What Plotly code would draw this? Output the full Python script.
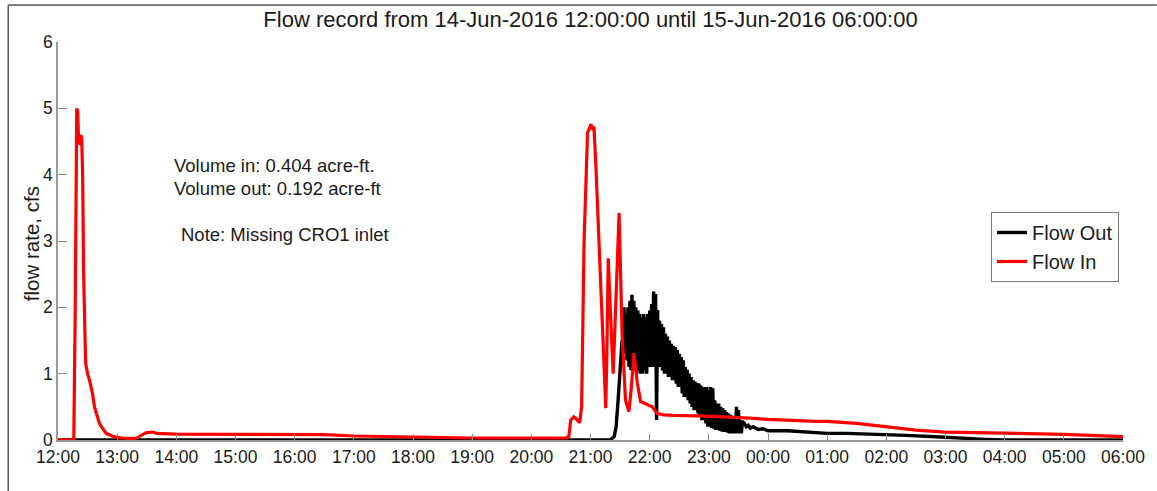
import pandas as pd
import plotly.graph_objects as go

START = pd.Timestamp("2016-06-14 12:00:00")

# Flow In (red): minutes after 12:00, flow in cfs
in_min = [0, 16, 17.5, 19, 20, 21, 22, 23, 24, 25, 26, 27, 28, 30, 32, 35, 37, 40, 42, 45, 49,
          55, 59, 65, 75, 80, 85, 89, 96, 100, 120, 180, 240, 270, 300, 360, 420, 480, 515,
          518, 520, 523, 525, 529, 531, 533.5, 535, 537, 539, 540.5, 542, 543.5, 545.5, 548.8,
          552, 555.5, 556.5, 558, 560, 563, 566, 569, 572, 575.5, 579, 581.5, 584, 587.5, 590.8,
          597.5, 602.6, 607.7, 614.4, 624.5, 658, 702, 720, 769, 780, 810, 840, 870, 900, 960,
          1020, 1080]
in_val = [0.0, 0.0, 2.0, 5.0, 4.95, 4.45, 4.5, 4.6, 4.55, 4.0, 2.5, 1.4, 1.16, 1.0, 0.9, 0.7,
          0.5, 0.35, 0.25, 0.18, 0.1, 0.06, 0.04, 0.03, 0.02, 0.03, 0.07, 0.11, 0.12, 0.1, 0.09,
          0.09, 0.09, 0.08, 0.06, 0.04, 0.03, 0.03, 0.03,
          0.05, 0.3, 0.35, 0.33, 0.26, 0.5, 3.0, 3.9, 4.63, 4.7, 4.76, 4.7, 4.72, 4.12, 2.86,
          1.61, 0.48, 1.2, 2.74, 2.0, 1.0, 2.2, 3.42, 1.61, 0.6, 0.43, 0.8, 1.31, 0.86, 0.58,
          0.53, 0.5, 0.4, 0.38, 0.37, 0.36, 0.33, 0.31, 0.28, 0.28, 0.25, 0.2, 0.15, 0.12, 0.1,
          0.085, 0.05]

# Flow Out (black): minutes after 12:00, flow in cfs
out_min = [0, 300, 500, 560, 564, 566, 568, 570, 572, 573, 574, 575, 576, 577, 578, 579, 580,
           581, 582, 583, 584, 585, 586, 587, 588, 589, 590, 591, 592, 593, 594, 595, 596, 597,
           598, 599, 600, 601, 602, 603, 604, 605, 606, 607, 608, 609, 610, 611, 612, 613, 614,
           615, 616, 617, 618, 619, 620, 621, 622, 623, 624, 625, 626, 627, 628, 629, 630, 631,
           632, 633, 634, 635, 636, 637, 638, 639, 640, 641, 642, 643, 644, 645, 646, 647, 648,
           649, 650, 651, 652, 653, 654, 655, 656, 657, 658, 659, 660, 661, 662, 663, 664, 665,
           666, 667, 668, 669, 670, 671, 672, 673, 674, 675, 676, 677, 678, 679, 680, 681, 682,
           683, 684, 685, 686, 687, 688, 689, 690, 691, 692, 693, 694, 696, 698, 700, 702, 705,
           710, 715, 720, 740, 760, 780, 800, 830, 860, 890, 920, 940, 960, 1080]
out_val = [0.0, 0.0, 0.0, 0.0, 0.05, 0.2, 0.6, 1.0, 1.5, 1.3, 2.0, 1.3, 1.9, 1.2, 2.0, 1.1,
           2.1, 1.05, 2.19, 1.1, 2.1, 1.05, 2.0, 1.0, 1.95, 1.05, 1.9, 1.0, 1.85, 1.0, 1.9, 1.05,
           1.85, 1.0, 1.9, 1.1, 1.95, 1.1, 2.05, 1.1, 2.24, 1.2, 2.2, 0.3, 1.96, 1.1, 1.8, 1.1,
           1.75, 1.05, 1.7, 1.0, 1.6, 1.0, 1.56, 0.95, 1.5, 0.95, 1.45, 0.9, 1.42, 0.9, 1.4, 0.85,
           1.36, 0.8, 1.3, 0.8, 1.25, 0.7, 1.2, 0.65, 1.1, 0.65, 1.06, 0.6, 1.0, 0.55, 0.95, 0.5,
           0.9, 0.45, 0.88, 0.45, 0.86, 0.4, 0.85, 0.35, 0.82, 0.3, 0.8, 0.3, 0.8, 0.25, 0.8, 0.2,
           0.75, 0.2, 0.8, 0.18, 0.78, 0.17, 0.6, 0.15, 0.55, 0.15, 0.55, 0.14, 0.5, 0.13, 0.48,
           0.12, 0.45, 0.12, 0.42, 0.11, 0.4, 0.1, 0.38, 0.1, 0.35, 0.1, 0.33, 0.1, 0.5, 0.1,
           0.45, 0.1, 0.3, 0.1, 0.28, 0.25, 0.2, 0.22, 0.18, 0.2, 0.16, 0.17, 0.14, 0.14, 0.12,
           0.1, 0.1, 0.09, 0.07, 0.05, 0.02, 0.01, 0.0, 0.0]

title_text = "Flow record from 14-Jun-2016 12:00:00 until 15-Jun-2016 06:00:00"
y_title = "flow rate, cfs"
notes = ["Volume in: 0.404 acre-ft.", "Volume out: 0.192 acre-ft", "Note: Missing CRO1 inlet"]

in_t = START + pd.to_timedelta(in_min, unit="m")
out_t = START + pd.to_timedelta(out_min, unit="m")

FONT = "Liberation Sans, Arial, sans-serif"
fig = go.Figure()
fig.add_trace(go.Scatter(x=out_t, y=out_val, mode="lines", name="Flow Out",
                         line=dict(color="black", width=3.4)))
fig.add_trace(go.Scatter(x=in_t, y=in_val, mode="lines", name="Flow In",
                         line=dict(color="#ff0000", width=3.2)))

W, H = 1157, 491
L, R, T, B = 58, 29, 42, 51
pw, ph = W - L - R, H - T - B
def px(x):
    return (x - L) / pw
def py(y):
    return (H - B - y) / ph

fig.update_layout(
    width=W, height=H, margin=dict(l=L, r=R, t=T, b=B),
    paper_bgcolor="white", plot_bgcolor="white",
    font=dict(family=FONT, color="#1a1a1a"),
    title=dict(text=title_text, x=0.5, xref="paper", y=1 - 19 / H, yref="container",
               xanchor="center", yanchor="middle", font=dict(size=22, color="#1a1a1a")),
    showlegend=True,
    legend=dict(x=px(1124), y=py(212), xanchor="right", yanchor="top", bgcolor="white",
                bordercolor="#777", borderwidth=1, font=dict(size=20), tracegroupgap=0,
                itemwidth=30),
)
fig.update_xaxes(type="date", range=[START, START + pd.Timedelta(hours=18)],
                 dtick=3600000, tickformat="%H:%M", ticks="inside", ticklen=6,
                 tickcolor="#888", showline=True, linecolor="#999", linewidth=1.5,
                 showgrid=False, zeroline=False, tickfont=dict(size=17.5), ticklabelstandoff=0)
fig.update_yaxes(range=[0, 6], dtick=1, ticks="inside", ticklen=9, tickcolor="#888",
                 showline=True, linecolor="#999", linewidth=1.5, showgrid=False,
                 zeroline=False, tickfont=dict(size=17.5))

fig.add_annotation(text=y_title, xref="paper", yref="paper", x=px(31), y=py(244),
                   xanchor="center", yanchor="middle", textangle=-90, showarrow=False,
                   font=dict(size=20.5, color="#1a1a1a"))

ann_pos = [(173, 165), (173, 188), (180, 234)]
for txt, (ax, ay) in zip(notes, ann_pos):
    fig.add_annotation(text=txt, xref="paper", yref="paper", x=px(ax), y=py(ay),
                       xanchor="left", yanchor="middle", showarrow=False,
                       font=dict(size=18.5, color="#1a1a1a"))

# outer frame lines (top and left)
fig.add_shape(type="line", xref="paper", yref="paper", x0=px(8), x1=px(W + 5),
              y0=py(5), y1=py(5), line=dict(color="#555", width=1.5))
fig.add_shape(type="line", xref="paper", yref="paper", x0=px(8), x1=px(8),
              y0=py(5), y1=py(H + 5), line=dict(color="#555", width=1.5))

fig.write_html("out.html")
